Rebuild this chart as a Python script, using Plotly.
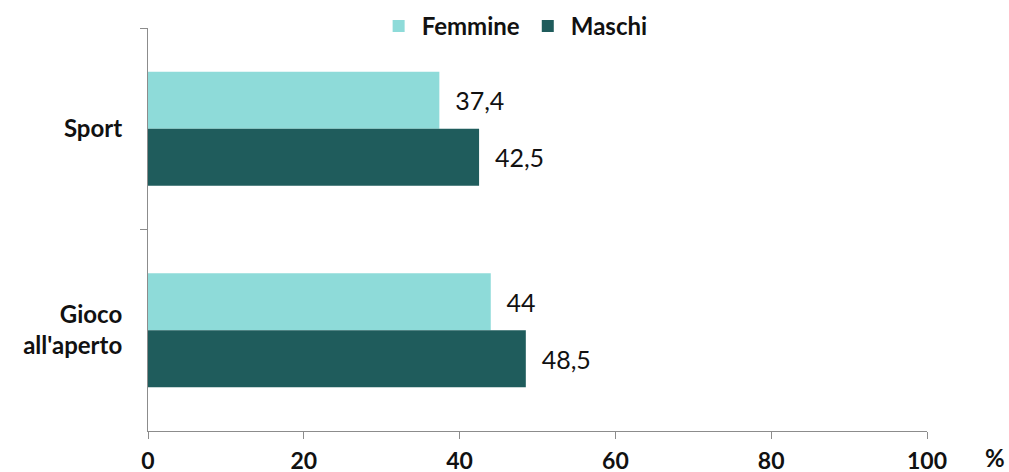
import plotly.graph_objects as go

categories = ["Sport", "Gioco<br>all'aperto"]
femmine = [37.4, 44.0]
maschi = [42.5, 48.5]
femmine_labels = ["37,4", "44"]
maschi_labels = ["42,5", "48,5"]
x_ticks = [0, 20, 40, 60, 80, 100]

FONT = "Lato, Carlito, sans-serif"
BIG = 25

fig = go.Figure()
fig.add_trace(go.Bar(
    y=categories, x=femmine, orientation="h", name="Femmine",
    marker=dict(color="#8EDBD9", line=dict(width=0)),
    text=["  " + t for t in femmine_labels], textposition="outside",
    textfont=dict(size=BIG, color="#111", family=FONT), cliponaxis=False,
))
fig.add_trace(go.Bar(
    y=categories, x=maschi, orientation="h", name="Maschi",
    marker=dict(color="#1F5C5C", line=dict(width=0)),
    text=["  " + t for t in maschi_labels], textposition="outside",
    textfont=dict(size=BIG, color="#111", family=FONT), cliponaxis=False,
))

pw = 1009 - 148 - 82
ph = 472 - 28 - 41

fig.update_layout(
    width=1009, height=472,
    margin=dict(l=148, r=82, t=28, b=41, autoexpand=False),
    paper_bgcolor="white", plot_bgcolor="white",
    barmode="group", bargap=0.434, bargroupgap=0,
    font=dict(family=FONT, color="#111"),
    showlegend=True,
    legend=dict(orientation="h", x=0.47, xanchor="center", y=0.992, yref="container",
                yanchor="top", font=dict(size=BIG - 1, family=FONT, color="#111", weight="bold"),
                bgcolor="rgba(0,0,0,0)", traceorder="normal", itemwidth=36),
    xaxis=dict(range=[0, 100], tickvals=x_ticks, ticktext=[str(v) for v in x_ticks],
               showgrid=False, zeroline=False, showline=True, linecolor="#8c8c8c", linewidth=1,
               ticks="outside", ticklen=7, tickcolor="#8c8c8c", automargin=False,
               tickfont=dict(size=BIG - 2, family=FONT, color="#111", weight="bold"),
               ticklabelstandoff=2),
    yaxis=dict(autorange="reversed", showgrid=False, zeroline=False, showline=True,
               linecolor="#8c8c8c", linewidth=1, ticks="outside", ticklen=7, tickcolor="#8c8c8c",
               tickson="boundaries", automargin=False,
               tickfont=dict(size=BIG - 1, family=FONT, color="#111", weight="bold"),
               ticklabelstandoff=20),
    annotations=[dict(text="<b>%</b>", x=(995 - 148) / pw, y=(472 - 41 - 457) / ph,
                      xref="paper", yref="paper", xanchor="center", yanchor="middle",
                      showarrow=False, font=dict(size=BIG - 1, family=FONT, color="#111"))],
)

fig.write_html("out.html", config={"displayModeBar": False},
               post_script="document.body.style.margin='0';document.body.style.overflow='hidden';")
